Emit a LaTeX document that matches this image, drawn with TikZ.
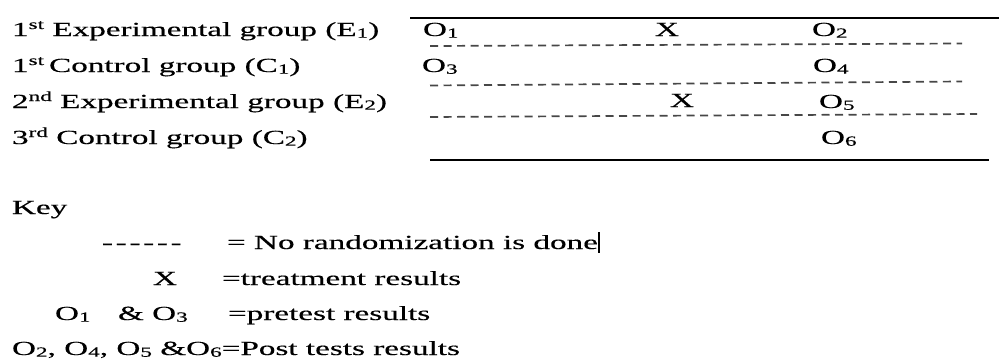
\documentclass[tikz,border=0pt]{standalone}
\usepackage{fontspec}
\setmainfont{Liberation Serif}[FakeBold=0.3]
\usepackage{graphicx}
\newcommand\sx[1]{\scalebox{1.66}[1]{#1}}
\newcommand\sbs[1]{\raisebox{-1.7pt}{\fontsize{14}{14}\selectfont #1}}
\newcommand\sps[1]{\raisebox{7pt}{\fontsize{14}{14}\selectfont #1}}
\begin{document}
\begin{tikzpicture}[x=1pt,y=-1pt,
  txt/.style={anchor=base west,inner sep=0pt,outer sep=0pt,font=\fontsize{20}{24}\selectfont},
  rule/.style={line width=1.4pt,black},
  dashrule/.style={line width=1.7pt,color=black!72,dash pattern=on 8pt off 5.5pt}]
\useasboundingbox (0,0) rectangle (999,359);
% row labels
\node[txt] (l1) at (12,36) {\sx{1\sps{st} Experimental group (E\sbs{1})}};
\node[txt] (l2) at (12,72) {\sx{1\sps{st}\kern3pt Control group (C\sbs{1})}};
\node[txt] (l3) at (12,108) {\sx{2\sps{nd} Experimental group (E\sbs{2})}};
\node[txt] (l4) at (12,144) {\sx{3\sps{rd} Control group (C\sbs{2})}};
% design cells
\node[txt] (o1) at (423,36) {\sx{O\sbs{1}}};
\node[txt] (x1) at (655,36) {\sx{X}};
\node[txt] (o2) at (812,36) {\sx{O\sbs{2}}};
\node[txt] (o3) at (422,72) {\sx{O\sbs{3}}};
\node[txt] (o4) at (813,72) {\sx{O\sbs{4}}};
\node[txt] (x2) at (670,107) {\sx{X}};
\node[txt] (o5) at (819,108) {\sx{O\sbs{5}}};
\node[txt] (o6) at (821,144) {\sx{O\sbs{6}}};
% rules
\coordinate (t1) at (410,18);  \coordinate (t2) at (999,18);
\coordinate (a1) at (430,46);  \coordinate (a2) at (962,43.5);
\coordinate (b1) at (430,85.5);\coordinate (b2) at (962,81.5);
\coordinate (c1) at (430,117); \coordinate (c2) at (977,114);
\coordinate (e1) at (430,160); \coordinate (e2) at (989,160);
\draw[rule] (t1) -- (t2);
\draw[dashrule] (a1) -- (a2);
\draw[dashrule] (b1) -- (b2);
\draw[dashrule] (c1) -- (c2);
\draw[rule] (e1) -- (e2);
% key
\node[txt] (key) at (12,214) {\sx{Key}};
\node[txt] (hy) at (102,249) {\sx{-\kern1.6pt-\kern1.6pt-\kern1.6pt-\kern1.6pt-\kern1.6pt-}};
\node[txt] (k1) at (227,249) {\sx{= No randomization is done}};
\coordinate (cu1) at (599,232); \coordinate (cu2) at (599,253);
\draw[line width=1.5pt] (cu1) -- (cu2);
\node[txt] (kx) at (153,285) {\sx{X}};
\node[txt] (k2) at (222,285) {\sx{=treatment results}};
\node[txt] (ko) at (55,320) {\sx{O\sbs{1}}};
\node[txt] (ka) at (118,320) {\sx{\& O\sbs{3}}};
\node[txt] (k3) at (228,320) {\sx{=pretest results}};
\node[txt] (k4) at (12,355) {\sx{O\sbs{2}, O\sbs{4}, O\sbs{5} \&O\sbs{6}=Post tests results}};
\end{tikzpicture}
\end{document}
